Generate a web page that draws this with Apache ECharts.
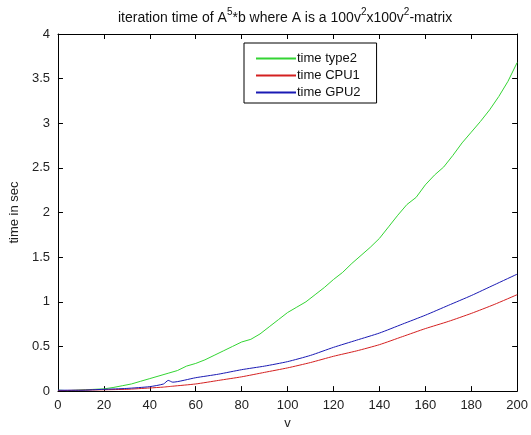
<!DOCTYPE html>
<html>
<head>
<meta charset="utf-8">
<script src="https://cdn.jsdelivr.net/npm/echarts@6/dist/echarts.min.js"></script>
<style>
  html, body { margin: 0; padding: 0; background: #fff; }
  #chart { width: 531px; height: 435px; }
</style>
</head>
<body>
<div id="chart"></div>
<script>
// values
const vFine = [0, 4, 8, 12, 16, 20, 24, 28, 32, 36, 40, 44, 48, 52, 56, 60, 64, 68, 72, 76, 80,
  84, 88, 92, 96, 100, 104, 108, 112, 116, 120, 124, 128, 132, 136, 140, 144, 148, 152, 156, 160,
  164, 168, 172, 176, 180, 184, 188, 192, 196, 200];
const timeType2 = [0.01, 0.005, 0.01, 0.015, 0.02, 0.025, 0.04, 0.06, 0.08, 0.11, 0.14, 0.17, 0.2, 0.23, 0.28, 0.31, 0.35, 0.4, 0.45, 0.5, 0.55,
  0.58, 0.64, 0.72, 0.8, 0.88, 0.94, 1.0, 1.08, 1.16, 1.25, 1.33, 1.43, 1.52, 1.61, 1.71, 1.84, 1.97, 2.09, 2.17, 2.31,
  2.42, 2.51, 2.64, 2.78, 2.9, 3.02, 3.15, 3.3, 3.47, 3.68];

const vCoarse = [0, 10, 20, 30, 40, 46, 48, 50, 60, 70, 80, 90, 100, 110, 120, 130, 140, 150, 160, 170, 180, 190, 200];
const timeCPU1 = [0.005, 0.01, 0.015, 0.02, 0.035, 0.045, 0.05, 0.055, 0.08, 0.12, 0.16, 0.21, 0.26, 0.32, 0.39, 0.45, 0.52, 0.61, 0.7, 0.78, 0.87, 0.97, 1.08];
const timeGPU2 = [0.01, 0.01, 0.02, 0.03, 0.05, 0.08, 0.12, 0.1, 0.15, 0.19, 0.24, 0.28, 0.33, 0.4, 0.49, 0.57, 0.65, 0.75, 0.85, 0.96, 1.07, 1.19, 1.31];

const xTicks = { min: 0, max: 200, step: 20 };
const yTicks = { min: 0, max: 4, step: 0.5 };

const font = "'Liberation Sans', Arial, sans-serif";

const pairs = (xs, ys) => xs.map((x, i) => [x, ys[i]]);

const axisBase = (t) => ({
  type: 'value',
  min: t.min,
  max: t.max,
  interval: t.step,
  axisLine: { onZero: false, lineStyle: { color: '#000', width: 1 } },
  axisTick: { inside: true, length: 5, lineStyle: { color: '#000' } },
  splitLine: { show: false },
  axisLabel: { color: '#222', fontSize: 13, fontFamily: font }
});

const chart = echarts.init(document.querySelector('#chart'), null, { renderer: 'canvas' });

chart.setOption({
  animation: false,
  backgroundColor: '#fff',
  title: {
    left: 118,
    top: 2,
    padding: [5, 0, 5, 0],
    text: '{n|iteration time of A}{s|5}{n|*b where A is a 100v}{s|2}{n|x100v}{s|2}{n|-matrix}',
    textStyle: {
      fontSize: 14,
      fontWeight: 'normal',
      fontFamily: font,
      color: '#111',
      rich: {
        n: { fontSize: 14, fontFamily: font, color: '#111', lineHeight: 18, verticalAlign: 'bottom' },
        s: { fontSize: 10, fontFamily: font, color: '#111', lineHeight: 18, verticalAlign: 'top' }
      }
    }
  },
  legend: {
    orient: 'vertical',
    left: 244,
    top: 43,
    itemWidth: 40,
    itemHeight: 15,
    itemGap: 4,
    padding: [9, 16, 4, 11],
    borderColor: '#000',
    borderWidth: 1,
    backgroundColor: '#fff',
    itemStyle: { opacity: 0 },
    textStyle: { fontSize: 13, fontFamily: font, color: '#111', padding: [0, 0, 0, -4] },
    data: ['time type2', 'time CPU1', 'time GPU2']
  },
  grid: { left: 57, right: 10, top: 34, bottom: 37 },
  xAxis: [
    Object.assign(axisBase(xTicks), {
      position: 'bottom',
      name: 'v',
      nameLocation: 'middle',
      nameGap: 19,
      nameTextStyle: { color: '#222', fontSize: 13, fontFamily: font }
    }),
    Object.assign(axisBase(xTicks), { position: 'top', axisLabel: { show: false } })
  ],
  yAxis: [
    Object.assign(axisBase(yTicks), {
      position: 'left',
      name: 'time in sec',
      nameLocation: 'middle',
      nameGap: 34,
      nameRotate: 90,
      nameTextStyle: { color: '#222', fontSize: 13, fontFamily: font }
    }),
    Object.assign(axisBase(yTicks), { position: 'right', axisLabel: { show: false } })
  ],
  series: [
    {
      name: 'time type2', type: 'line', data: pairs(vFine, timeType2),
      symbol: 'none', lineStyle: { width: 1, color: '#33d433' }, itemStyle: { color: '#33d433' }
    },
    {
      name: 'time CPU1', type: 'line', data: pairs(vCoarse, timeCPU1), smooth: 0.2,
      symbol: 'none', lineStyle: { width: 1, color: '#d42020' }, itemStyle: { color: '#d42020' }
    },
    {
      name: 'time GPU2', type: 'line', data: pairs(vCoarse, timeGPU2), smooth: 0.2,
      symbol: 'none', lineStyle: { width: 1, color: '#1a1ab4' }, itemStyle: { color: '#1a1ab4' }
    }
  ]
});
</script>
</body>
</html>
